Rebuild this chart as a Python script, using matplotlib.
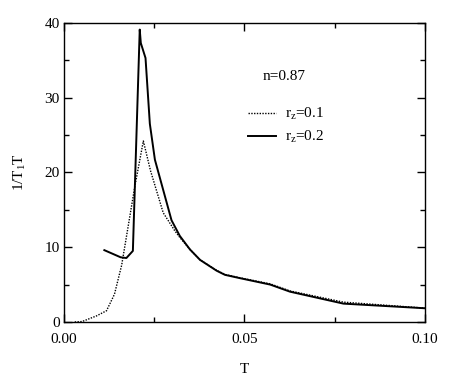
import matplotlib
matplotlib.use("Agg")
import matplotlib.pyplot as plt
from matplotlib.ticker import MultipleLocator

plt.rcParams['font.family'] = 'Liberation Serif'
plt.rcParams['mathtext.fontset'] = 'custom'
plt.rcParams['mathtext.rm'] = 'Liberation Serif'
plt.rcParams['mathtext.it'] = 'Liberation Serif'

# r_z = 0.1 (dotted)
T_01 = [0.0030, 0.0050, 0.0090, 0.0118, 0.0140, 0.0160, 0.0196, 0.0220,
        0.0240, 0.0275, 0.0307, 0.0321, 0.0349, 0.0377, 0.0423, 0.0446,
        0.0488, 0.0571, 0.0626, 0.0774, 0.1000]
y_01 = [0.0, 0.05, 0.8, 1.5, 3.7, 7.6, 18.0, 24.2,
        20.2, 14.6, 12.2, 11.3, 9.7, 8.3, 6.9, 6.35,
        5.9, 5.1, 4.15, 2.65, 1.85]

# r_z = 0.2 (solid)
T_02 = [0.0112, 0.0157, 0.0173, 0.0191, 0.0210, 0.0213, 0.0226, 0.0238,
        0.0252, 0.0298, 0.0321, 0.0349, 0.0377, 0.0423, 0.0446, 0.0488,
        0.0571, 0.0626, 0.0774, 0.1000]
y_02 = [9.6, 8.65, 8.55, 9.5, 39.1, 37.3, 35.3, 26.5,
        21.7, 13.6, 11.5, 9.7, 8.3, 6.85, 6.3, 5.85,
        5.0, 4.05, 2.45, 1.83]

fig = plt.figure(figsize=(4.63, 3.81), dpi=100)
ax = fig.add_axes([0.138, 0.155, 0.78, 0.785])

ax.plot(T_01, y_01, color='black', lw=1.0, linestyle=(0, (1, 1)), label='r$_\\mathrm{z}$=0.1')
ax.plot(T_02, y_02, color='black', lw=1.4, label='r$_\\mathrm{z}$=0.2')

ax.set_xlim(0, 0.1)
ax.set_ylim(0, 40)
ax.xaxis.set_major_locator(MultipleLocator(0.05))
ax.xaxis.set_minor_locator(MultipleLocator(0.025))
ax.yaxis.set_major_locator(MultipleLocator(10))
ax.yaxis.set_minor_locator(MultipleLocator(5))
ax.xaxis.set_major_formatter(plt.FuncFormatter(lambda v, p: '%.2f' % v))
ax.tick_params(which='both', direction='in', top=True, right=True, labelsize=11, width=1.0)
ax.tick_params(which='major', length=6)
ax.tick_params(which='minor', length=3.5)
ax.tick_params(axis='x', which='major', pad=8)
ax.tick_params(axis='y', which='major', pad=3)
for s in ax.spines.values():
    s.set_linewidth(1.0)

ax.set_xlabel('T', fontsize=11, labelpad=12)
ax.set_ylabel('1/T$_1$T', fontsize=11, labelpad=12)

ax.text(0.551, 0.82, 'n=0.87', transform=ax.transAxes, fontsize=11, va='center')
ax.legend(loc='upper left', bbox_to_anchor=(0.51, 0.722), frameon=False, fontsize=11,
          handlelength=1.8, handletextpad=0.6, labelspacing=0.45,
          borderaxespad=0, borderpad=0)

fig.savefig('out.png', dpi=100)
